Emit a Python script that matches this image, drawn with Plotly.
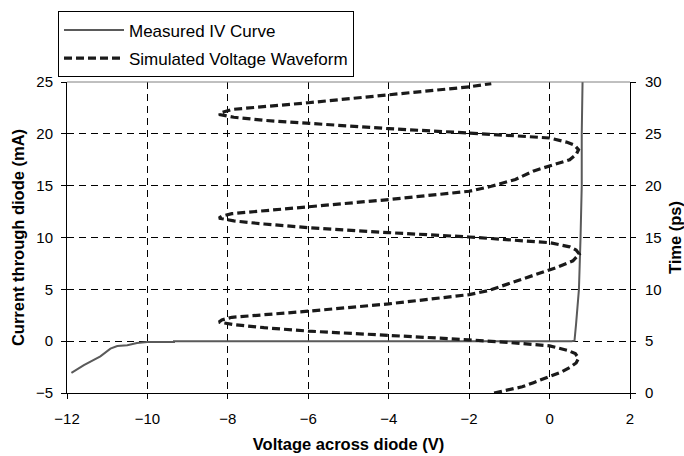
import plotly.graph_objects as go

# Measured IV curve (voltage in V, current in mA)
iv_voltage = [-11.89, -11.58, -11.17, -10.92, -10.75, -10.5, -10.26, -10.0, -9.34, -9.34,
              0.55, 0.62, 0.66, 0.70, 0.73, 0.77, 0.80, 0.80, 0.82]
iv_current = [-3.06, -2.32, -1.46, -0.72, -0.47, -0.40, -0.18, -0.09, -0.09, 0.0,
              0.0, 0.05, 1.7, 3.5, 5.0, 10.0, 15.0, 20.0, 25.0]

# Simulated voltage waveform (time in ps, voltage in V)
wave_time = [0.0, 0.6, 1.0, 1.56, 2.0, 2.46, 2.9, 3.35, 3.8, 4.1, 4.55, 4.85, 5.13, 5.56, 5.97,
             6.3, 6.6, 6.84, 7.05, 7.3, 7.89, 8.6, 9.49, 9.87,
             10.67, 11.3, 12.1, 12.75, 13.4, 13.8, 14.1, 14.5, 14.8, 15.05, 15.47, 15.95,
             16.3, 16.6, 16.87, 17.05, 17.3, 17.96, 18.66, 19.46, 19.94,
             20.6, 21.4, 22.0, 22.5, 23.0, 23.46, 23.9, 24.2, 24.6, 24.85, 25.08, 25.5, 26.0,
             26.3, 26.6, 26.87, 27.05, 27.35, 28.0, 28.73, 29.53, 29.85]
wave_voltage = [-1.38, -0.68, -0.40, 0.0, 0.28, 0.50, 0.66, 0.72, 0.64, 0.46, 0.0, -0.95, -2.0, -4.0, -6.0,
                -7.1, -7.85, -8.22, -8.15, -7.9, -6.0, -4.0, -2.0, -1.53,
                -0.91, -0.41, 0.17, 0.58, 0.74, 0.66, 0.50, 0.0, -1.0, -2.0, -4.0, -6.0,
                -7.1, -7.85, -8.22, -8.15, -7.9, -6.0, -4.0, -2.0, -1.45,
                -0.85, -0.41, 0.08, 0.50, 0.66, 0.72, 0.62, 0.42, 0.0, -1.0, -2.0, -4.0, -6.0,
                -7.1, -7.85, -8.22, -8.15, -7.9, -6.0, -4.0, -2.0, -1.45]

FONT = "Liberation Sans, Arial, sans-serif"

fig = go.Figure()
fig.add_trace(go.Scatter(
    x=iv_voltage, y=iv_current, mode="lines", name="Measured IV Curve",
    line=dict(color="#5a5a5a", width=2), legendgroup="a", yaxis="y"))
fig.add_trace(go.Scatter(
    x=wave_voltage, y=wave_time, mode="lines", name="Simulated Voltage Waveform",
    line=dict(color="#1a1a1a", width=3.2, dash="8px,4px"), legendgroup="b", yaxis="y2"))

axis_common = dict(
    showline=True, linecolor="black", linewidth=1,
    ticks="outside", ticklen=5, tickcolor="black",
    tickfont=dict(family=FONT, size=15, color="black"),
    zeroline=False, automargin=False,
)

fig.update_layout(
    width=684, height=456,
    margin=dict(l=67, r=54, t=80, b=63),
    paper_bgcolor="white", plot_bgcolor="white",
    font=dict(family=FONT, color="black"),
    xaxis=dict(range=[-12, 2], dtick=2, tick0=-12,
               showgrid=True, gridcolor="black", griddash="7px,5px", gridwidth=1,
               ticklabelstandoff=7,
               title=dict(text="<b>Voltage across diode (V)</b>",
                          font=dict(family=FONT, size=16.5), standoff=12),
               **axis_common),
    yaxis=dict(range=[-5, 25], dtick=5, tick0=-5,
               showgrid=True, gridcolor="black", griddash="7px,5px", gridwidth=1,
               ticklabelstandoff=5,
               title=dict(text="<b>Current through diode (mA)</b>",
                          font=dict(family=FONT, size=16.5), standoff=7),
               **axis_common),
    yaxis2=dict(range=[0, 30], dtick=5, tick0=0, overlaying="y", side="right",
                showgrid=False, ticklabelstandoff=6,
                title=dict(text="<b>Time (ps)</b>",
                           font=dict(family=FONT, size=16.5), standoff=12),
                **axis_common),
    legend=dict(x=-0.016, y=1.227, xanchor="left", yanchor="top",
                bgcolor="white", bordercolor="black", borderwidth=1,
                font=dict(family=FONT, size=17, color="black"),
                traceorder="grouped", tracegroupgap=3, itemwidth=60),
    shapes=[dict(type="line", xref="paper", yref="paper", x0=0, x1=1, y0=1, y1=1,
                 line=dict(color="#808080", width=1))],
)

fig.write_html("out.html")
